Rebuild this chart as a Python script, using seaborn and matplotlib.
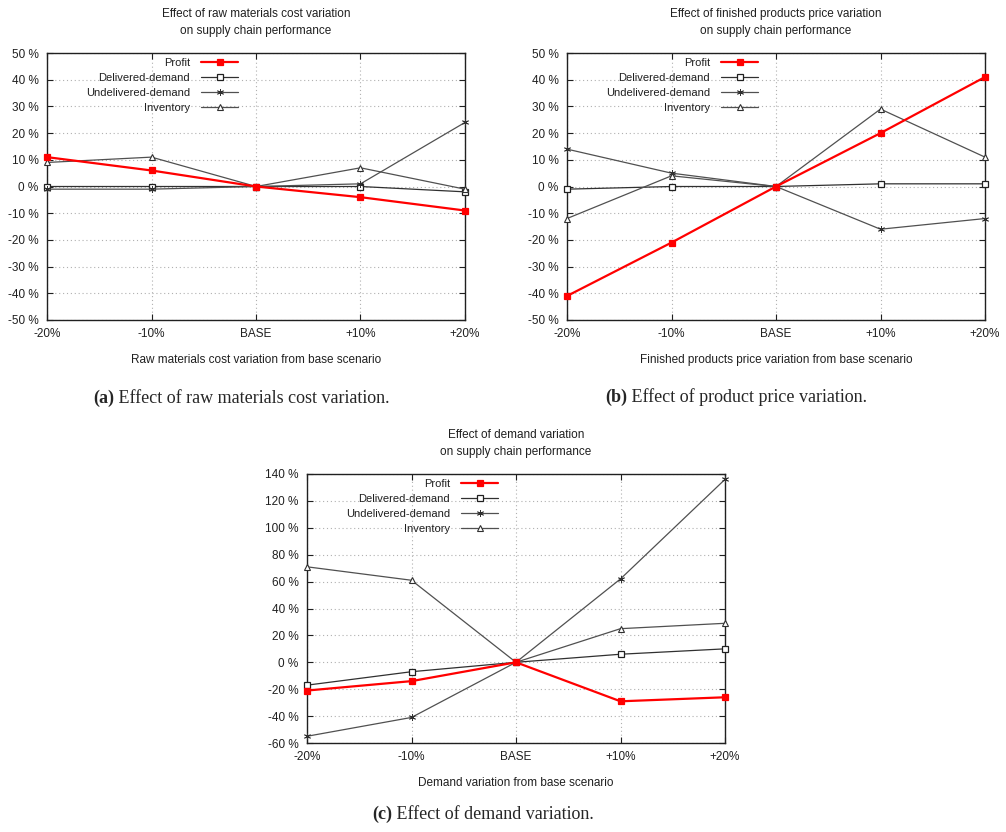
import numpy as np
import pandas as pd
import matplotlib
matplotlib.use("Agg")
import matplotlib.pyplot as plt
import seaborn as sns

# scenario labels on the x axis
scenarios = ["-20%", "-10%", "BASE", "+10%", "+20%"]
series_names = ["Profit", "Delivered-demand", "Undelivered-demand", "Inventory"]

# (a) raw materials cost variation
raw_profit = [11, 6, 0, -4, -9]
raw_delivered = [0, 0, 0, 0, -2]
raw_undelivered = [-1, -1, 0, 1, 24]
raw_inventory = [9, 11, 0, 7, -1]

# (b) finished products price variation
price_profit = [-41, -21, 0, 20, 41]
price_delivered = [-1, 0, 0, 1, 1]
price_undelivered = [14, 5, 0, -16, -12]
price_inventory = [-12, 4, 0, 29, 11]

# (c) demand variation
dem_profit = [-21, -14, 0, -29, -26]
dem_delivered = [-17, -7, 0, 6, 10]
dem_undelivered = [-55, -41, 0, 62, 136]
dem_inventory = [71, 61, 0, 25, 29]

sns.set_style("ticks")
plt.rcParams["font.family"] = ["Liberation Sans", "DejaVu Sans"]
plt.rcParams["font.size"] = 8

W, H = 1006, 832
fig = plt.figure(figsize=(W / 100, H / 100), dpi=100)


def px_axes(left, top, right, bottom):
    return fig.add_axes([left / W, 1 - bottom / H, (right - left) / W, (bottom - top) / H])


styles = {
    "Profit": dict(color="#ff0000", lw=1.6, marker="s", ms=5, mfc="#ff0000", mec="#ff0000", mew=0.9),
    "Delivered-demand": dict(color="#303030", lw=0.9, marker="s", ms=4.2, mfc="white", mec="#202020", mew=0.9),
    "Undelivered-demand": dict(color="#505050", lw=0.9, marker=(6, 2, 0), ms=5, mfc="none", mec="#303030", mew=0.6),
    "Inventory": dict(color="#505050", lw=0.9, marker="^", ms=5, mfc="white", mec="#303030", mew=0.8),
}


def panel(ax, values, ylim, yticks, title, xlabel):
    pos = np.arange(len(scenarios))
    df = pd.DataFrame({"pos": np.tile(pos, 4),
                       "value": np.concatenate(values),
                       "series": np.repeat(series_names, len(scenarios))})
    for name in series_names:
        st = styles[name]
        sub = df[df["series"] == name]
        sns.lineplot(data=sub, x="pos", y="value", ax=ax, color=st["color"], lw=st["lw"],
                     marker=st["marker"], markersize=st["ms"], markerfacecolor=st["mfc"],
                     markeredgecolor=st["mec"], markeredgewidth=st["mew"], label=name,
                     clip_on=False, zorder=5 if name == "Profit" else 3)
    ax.set_xlim(0, 4)
    ax.set_ylim(*ylim)
    ax.set_xticks(pos)
    ax.set_xticklabels(scenarios)
    ax.set_yticks(yticks)
    ax.set_yticklabels([f"{t} %" for t in yticks])
    ax.grid(True, color="#b0b0b0", lw=0.8, ls=(0, (1, 2.5)))
    ax.tick_params(direction="in", top=True, right=True, length=4, width=0.8,
                   color="#202020", labelsize=8.5, pad=6, labelcolor="#202020")
    for sp in ax.spines.values():
        sp.set_visible(True)
        sp.set_color("#202020")
        sp.set_linewidth(1.0)
    ax.set_xlabel(xlabel, fontsize=8.5, labelpad=10, color="#202020")
    ax.set_ylabel("")
    ax.set_title(title, fontsize=8.5, pad=14, color="#202020", linespacing=1.5)
    leg = ax.legend(loc="upper right", bbox_to_anchor=(0.457, 0.982), frameon=False,
                    markerfirst=False, handlelength=3.3, labelspacing=0.45,
                    borderpad=0, borderaxespad=0, handletextpad=1.0, fontsize=8)
    for t in leg.get_texts():
        t.set_color("#202020")


ax_a = px_axes(47, 53, 465, 320)
panel(ax_a, [raw_profit, raw_delivered, raw_undelivered, raw_inventory],
      (-50, 50), list(range(-50, 51, 10)),
      "Effect of raw materials cost variation\non supply chain performance",
      "Raw materials cost variation from base scenario")

ax_b = px_axes(567, 53, 985, 320)
panel(ax_b, [price_profit, price_delivered, price_undelivered, price_inventory],
      (-50, 50), list(range(-50, 51, 10)),
      "Effect of finished products price variation\non supply chain performance",
      "Finished products price variation from base scenario")

ax_c = px_axes(307, 474, 725, 743)
panel(ax_c, [dem_profit, dem_delivered, dem_undelivered, dem_inventory],
      (-60, 140), list(range(-60, 141, 20)),
      "Effect of demand variation\non supply chain performance",
      "Demand variation from base scenario")

# sub-figure captions
captions = [("(a)", " Effect of raw materials cost variation.", 93, 398),
            ("(b)", " Effect of product price variation.", 605, 397),
            ("(c)", " Effect of demand variation.", 372, 814)]
for tag, text, x, y in captions:
    t1 = fig.text(x / W, 1 - y / H, tag, fontsize=13, fontweight="bold",
                  family="Liberation Serif", va="center", ha="left")
    ax_a.annotate(text, xy=(1, 0), xycoords=t1, va="bottom", ha="left",
                  fontsize=13, family="Liberation Serif", annotation_clip=False)

fig.savefig("out.png", dpi=100)
